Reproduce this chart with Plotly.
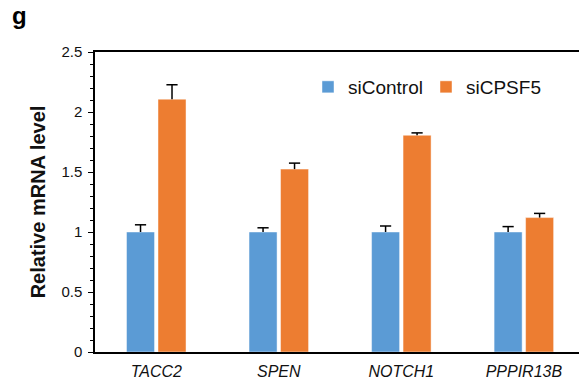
import plotly.graph_objects as go

genes = ["TACC2", "SPEN", "NOTCH1", "PPPIR13B"]
si_control = [1.0, 1.0, 1.0, 1.0]
si_control_err = [0.06, 0.035, 0.05, 0.045]
si_cpsf5 = [2.107, 1.524, 1.806, 1.12]
si_cpsf5_err = [0.12, 0.05, 0.02, 0.035]
y_ticks = [0, 0.5, 1, 1.5, 2, 2.5]
y_tick_labels = ["0", "0.5", "1", "1.5", "2", "2.5"]

FONT = "Liberation Sans, Arial, sans-serif"
BLUE = "#5B9BD5"
ORANGE = "#ED7D31"

W, H = 579, 383
L, T, B, R = 95, 52, 383 - 352, 0
PW, PH = W - L - R, H - T - B
GAP = 0.486


def add_series(name, vals, errs, color):
    # bar with upper error stem (no caps)
    fig.add_trace(go.Bar(
        x=genes, y=vals, name=name,
        marker=dict(color=color, line=dict(color="rgba(255,255,255,0.45)", width=1)),
        error_y=dict(type="data", symmetric=False, array=errs,
                     arrayminus=[0] * len(genes), color="black", thickness=1.5, width=0),
    ))


def add_caps(vals, errs):
    # top caps of the error bars only
    fig.add_trace(go.Scatter(
        x=genes, y=[v + e for v, e in zip(vals, errs)], mode="markers",
        marker=dict(symbol="line-ew", size=8, color="black",
                    line=dict(color="black", width=1.5)),
        showlegend=False, hoverinfo="skip",
    ))


fig = go.Figure()
add_series("siControl", si_control, si_control_err, BLUE)
add_series("siCPSF5", si_cpsf5, si_cpsf5_err, ORANGE)
add_caps(si_control, si_control_err)
add_caps(si_cpsf5, si_cpsf5_err)

fig.update_layout(
    width=W, height=H,
    margin=dict(l=L, r=R, t=T, b=B, autoexpand=False),
    paper_bgcolor="white", plot_bgcolor="white",
    barmode="group", bargap=GAP, bargroupgap=0.11,
    scattermode="group", scattergap=GAP,
    font=dict(family=FONT, color="#111111"),
    showlegend=True,
    legend=dict(orientation="h", x=(308 - L) / PW, y=1 - (87 - T) / PH,
                xanchor="left", yanchor="middle",
                font=dict(size=19, family=FONT, color="#111111"),
                itemwidth=30, entrywidth=73, bgcolor="rgba(0,0,0,0)"),
    xaxis=dict(
        type="category", range=[-0.5, 3.45],
        showline=True, linecolor="black", linewidth=1.5, mirror=True,
        ticks="", showgrid=False, zeroline=False,
        tickfont=dict(size=16, family=FONT, color="#111111", style="italic"),
        ticklabelstandoff=4,
    ),
    yaxis=dict(
        range=[0, 2.5], tickvals=y_ticks, ticktext=y_tick_labels,
        showline=True, linecolor="black", linewidth=1.5,
        ticks="outside", ticklen=5, tickcolor="black", tickwidth=1.2,
        minor=dict(dtick=0.1, ticks="outside", ticklen=3, tickcolor="black", tickwidth=1, showgrid=False),
        showgrid=False, zeroline=False,
        tickfont=dict(size=15, family=FONT, color="#111111"),
        ticklabelstandoff=3,
        title=dict(text="<b>Relative mRNA level</b>", font=dict(size=20, family=FONT, color="#111111"),
                   standoff=10),
    ),
    annotations=[dict(text="<b>g</b>", xref="paper", yref="paper",
                      x=(10 - L) / PW, y=1 + (T - 0) / PH,
                      xanchor="left", yanchor="top", showarrow=False,
                      font=dict(size=24, family=FONT, color="black"))],
)

fig.write_html("out.html", config={"displayModeBar": False},
               post_script="document.body.style.margin='0';")
